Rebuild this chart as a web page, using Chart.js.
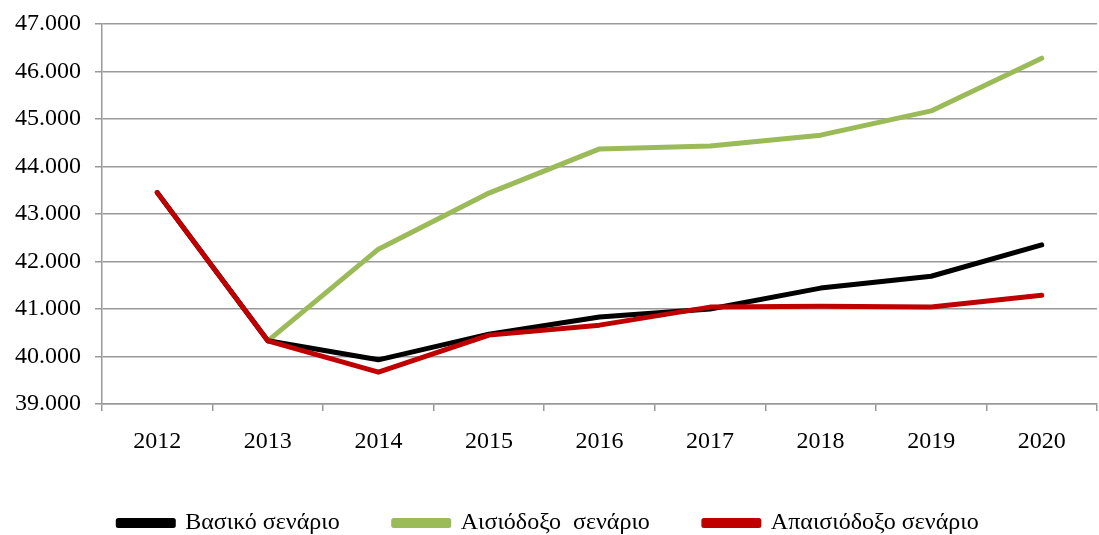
<!DOCTYPE html>
<html>
<head>
<meta charset="utf-8">
<script src="https://cdn.jsdelivr.net/npm/chart.js@4"></script>
<style>
  html, body { margin: 0; padding: 0; background: #fff; }
  #wrap { width: 1099px; height: 535px; }
</style>
</head>
<body>
<div id="wrap"><canvas id="chart"></canvas></div>
<script>
const years = ['2012', '2013', '2014', '2015', '2016', '2017', '2018', '2019', '2020'];
const basic = [43450, 40330, 39930, 40470, 40830, 41000, 41440, 41690, 42350];
const optimistic = [null, 40330, 42260, 43440, 44370, 44430, 44660, 45170, 46280];
const pessimistic = [43450, 40330, 39670, 40450, 40660, 41040, 41060, 41040, 41290];
const seriesNames = ['Βασικό σενάριο', 'Αισιόδοξο  σενάριο', 'Απαισιόδοξο σενάριο'];

const GRID = '#999999';
const FONT = '"Liberation Serif", "Times New Roman", serif';

const fmt = v => String(v).replace(/\B(?=(\d{3})+(?!\d))/g, '.');

// red drawn on top, then black, green underneath
const line = (label, data, color, order) => ({
  label, data, order,
  borderColor: color,
  backgroundColor: color,
  borderWidth: 5,
  tension: 0,
  pointRadius: 0,
  borderCapStyle: 'round',
  borderJoinStyle: 'round'
});

new Chart(document.getElementById('chart'), {
  type: 'line',
  data: {
    labels: years,
    datasets: [
      line(seriesNames[0], basic, '#000000', 1),
      line(seriesNames[1], optimistic, '#9BBB59', 2),
      line(seriesNames[2], pessimistic, '#C00000', 0)
    ]
  },
  options: {
    responsive: true,
    maintainAspectRatio: false,
    animation: false,
    layout: { padding: { top: 24, right: 2, left: 0, bottom: -10 } },
    plugins: {
      tooltip: { enabled: false },
      legend: {
        position: 'bottom',
        labels: {
          font: { family: FONT, size: 24 },
          color: '#000',
          boxWidth: 55,
          boxHeight: 5,
          padding: 54,
          sort: (a, b) => a.datasetIndex - b.datasetIndex
        }
      }
    },
    scales: {
      x: {
        offset: true,
        grid: { offset: true, drawOnChartArea: false, color: GRID, lineWidth: 1.5, tickLength: 7 },
        border: { color: GRID, width: 1.5 },
        ticks: { font: { family: FONT, size: 24 }, color: '#000', padding: 16, maxRotation: 0 },
        afterFit: s => { s.height = 53; }
      },
      y: {
        min: 39000,
        max: 47000,
        grid: { color: GRID, lineWidth: 1.5, tickLength: 7 },
        border: { color: GRID, width: 1.5 },
        ticks: { stepSize: 1000, font: { family: FONT, size: 24 }, color: '#000', padding: 14, callback: v => fmt(v) },
        afterFit: s => { s.width = 102; s.paddingTop = 0; s.paddingBottom = 0; }
      }
    }
  }
});
</script>
</body>
</html>
